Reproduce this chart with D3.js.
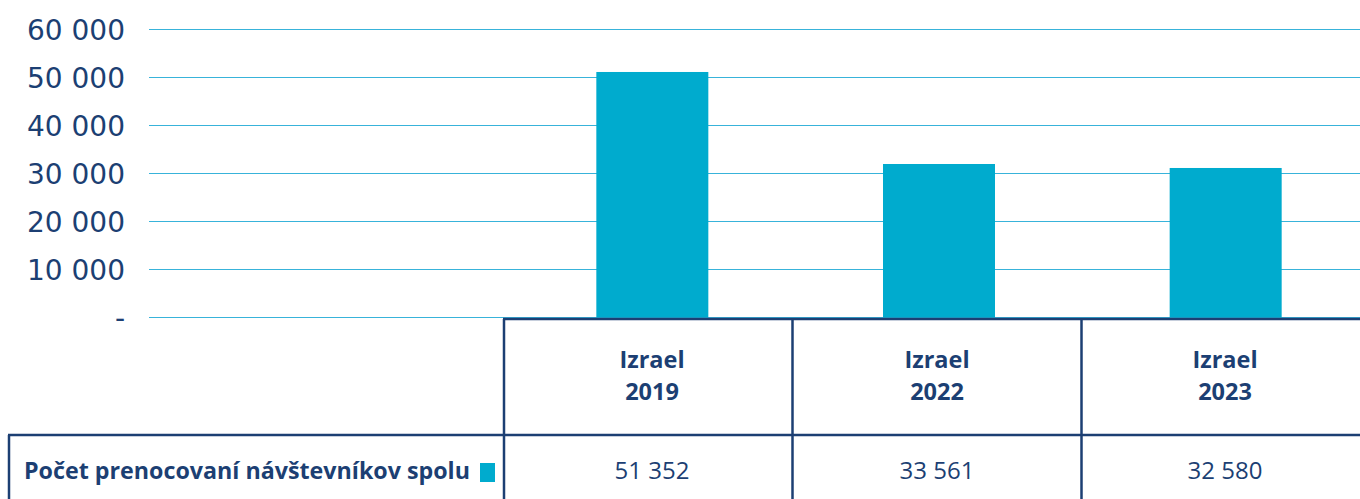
<!DOCTYPE html>
<html><head><meta charset="utf-8">
<script src="https://cdn.jsdelivr.net/npm/d3@7"></script>
<style>body{margin:0;background:#fff}svg{display:block}</style>
</head><body><svg id="c" width="1360" height="499"></svg>
<script>
const categories = ["Izrael 2019", "Izrael 2022", "Izrael 2023"];
const headerLines = [["Izrael","2019"],["Izrael","2022"],["Izrael","2023"]];
const barValues = [51150, 31980, 31150];
const tableLabels = ["51 352", "33 561", "32 580"];
const seriesName = "Počet prenocovaní návštevníkov spolu";
const yTicks = [0, 10000, 20000, 30000, 40000, 50000, 60000];

const navy = "#1c3f73", barColor = "#00abce", gridColor = "#38b3da";
const svg = d3.select("#c");
const y = d3.scaleLinear().domain([0, 60000]).range([317.5, 29.5]);
const x = d3.scaleBand().domain(categories).range([509, 1369]).paddingInner(0);
const barW = 112;
const fmt = v => v === 0 ? "-" : d3.format(",")(v).replace(/,/g, " ");

// grid + y labels
const yAxis = d3.axisLeft(y).tickValues(yTicks).tickSize(0).tickFormat(fmt);
const ga = svg.append("g").attr("transform", "translate(125,0)").call(yAxis);
ga.select(".domain").remove();
ga.selectAll("text").attr("x", 0).attr("dy", "0.36em")
  .attr("font-family", "'DejaVu Sans', sans-serif").attr("font-size", 28)
  .attr("fill", navy).attr("text-anchor", "end");
svg.append("g").selectAll("line").data(yTicks).join("line")
  .attr("x1", 149).attr("x2", 1360).attr("y1", d => Math.round(y(d)) - 0.5).attr("y2", d => Math.round(y(d)) - 0.5)
  .attr("stroke", gridColor).attr("stroke-width", 1.2);

// bars
svg.append("g").selectAll("rect").data(barValues).join("rect")
  .attr("x", (d, i) => x(categories[i]) + x.bandwidth() / 2 - barW / 2)
  .attr("width", barW)
  .attr("y", d => y(d)).attr("height", d => y(0) - y(d))
  .attr("fill", barColor);

// table lines
const tl = svg.append("g").attr("stroke", navy).attr("stroke-width", 2.5);
tl.append("line").attr("x1", 503).attr("x2", 1360).attr("y1", 319).attr("y2", 319);
tl.append("line").attr("x1", 8).attr("x2", 1360).attr("y1", 435).attr("y2", 435);
tl.append("line").attr("x1", 9).attr("x2", 9).attr("y1", 435).attr("y2", 499);
const vx = [504, 792.5, 1081.5];
tl.selectAll(".v").data(vx).join("line").attr("class", "v")
  .attr("x1", d => d).attr("x2", d => d).attr("y1", 319).attr("y2", 499);

const colCenters = [652, 937, 1225];
// headers
const hg = svg.append("g").attr("font-family", "'Open Sans', sans-serif")
  .attr("font-weight", "bold").attr("font-size", 23.5).attr("fill", navy).attr("text-anchor", "middle");
headerLines.forEach((ls, i) => {
  ls.forEach((t, j) => hg.append("text").attr("x", colCenters[i]).attr("y", 368 + j * 32).text(t));
});
// values
svg.append("g").selectAll("text").data(tableLabels).join("text")
  .attr("x", (d, i) => colCenters[i]).attr("y", 479)
  .attr("font-family", "'Open Sans', sans-serif").attr("font-size", 24)
  .attr("fill", navy).attr("text-anchor", "middle").text(d => d);
// row label + legend
svg.append("text").attr("x", 24).attr("y", 479)
  .attr("font-family", "'Open Sans', sans-serif").attr("font-weight", "bold").attr("font-size", 23)
  .attr("textLength", 446).attr("lengthAdjust", "spacingAndGlyphs")
  .attr("fill", navy).text(seriesName);
svg.append("rect").attr("x", 480).attr("y", 463).attr("width", 15).attr("height", 19).attr("fill", barColor);
</script></body></html>
